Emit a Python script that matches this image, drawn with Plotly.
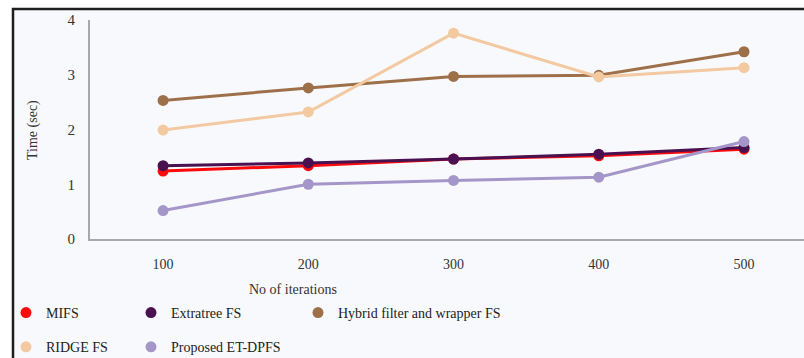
import plotly.graph_objects as go

# Iteration counts on the x axis
iterations = [100, 200, 300, 400, 500]

# Running time (sec) for each feature-selection method
mifs = [1.24, 1.34, 1.46, 1.52, 1.64]
extratree = [1.34, 1.39, 1.46, 1.55, 1.67]
hybrid = [2.53, 2.76, 2.97, 2.99, 3.42]
ridge = [1.99, 2.32, 3.76, 2.96, 3.13]
proposed = [0.52, 1.00, 1.07, 1.13, 1.78]

series = [
    ("MIFS", mifs, "#ff0a0a", "legend"),
    ("Extratree FS", extratree, "#4a1150", "legend2"),
    ("Hybrid filter and wrapper FS", hybrid, "#9e7049", "legend3"),
    ("RIDGE FS", ridge, "#f2c9a1", "legend"),
    ("Proposed ET-DPFS", proposed, "#a596c9", "legend2"),
]

FONT = "Liberation Serif, Times New Roman, serif"
W, H = 804, 358

fig = go.Figure()
for name, vals, color, leg in series:
    fig.add_trace(go.Scatter(
        x=iterations, y=vals, name=name, mode="lines+markers",
        line=dict(color=color, width=3),
        marker=dict(color=color, size=11),
        showlegend=False,
    ))

# Legend entries: short marker symbols arranged in three columns
for i, (name, vals, color, leg) in enumerate(series):
    fig.add_trace(go.Scatter(
        x=[None], y=[None], name=name, mode="markers",
        marker=dict(color=color, size=11, symbol="circle"),
        legend=leg, legendgroup=name,
    ))

legend_common = dict(
    orientation="v", bgcolor="rgba(0,0,0,0)", borderwidth=0,
    font=dict(family=FONT, size=14, color="#222222"),
    tracegroupgap=13, itemwidth=30, yanchor="top", xanchor="left",
    xref="container", yref="container",
)
leg_y = 1 - 297 / H

fig.update_layout(
    width=W, height=H,
    margin=dict(l=90, r=0, t=20, b=H - 239, autoexpand=False),
    paper_bgcolor="white",
    plot_bgcolor="rgba(0,0,0,0)",
    font=dict(family=FONT, size=14, color="#333333"),
    legend=dict(x=(6) / W, y=leg_y, **legend_common),
    legend2=dict(x=(131) / W, y=leg_y, **legend_common),
    legend3=dict(x=(298) / W, y=leg_y, **legend_common),
    xaxis=dict(
        range=[49.7, 541.3], tickvals=iterations,
        ticktext=[str(v) for v in iterations],
        showgrid=False, zeroline=False,
        showline=True, linecolor="#a8a8a8", linewidth=2,
        ticks="outside", ticklen=11, tickcolor="rgba(0,0,0,0)",
        tickfont=dict(family=FONT, size=14, color="#333333"),
    ),
    yaxis=dict(
        range=[0, 4], tickvals=[0, 1, 2, 3, 4],
        showgrid=False, zeroline=False,
        showline=True, linecolor="#a8a8a8", linewidth=2,
        ticks="outside", ticklen=10, tickcolor="rgba(0,0,0,0)",
        tickfont=dict(family=FONT, size=15, color="#333333"),
    ),
    annotations=[
        dict(text="No of iterations", xref="paper", yref="paper",
             x=(293 - 90) / (W - 90), y=-(289 - 239) / (239 - 20),
             showarrow=False, xanchor="center", yanchor="middle",
             font=dict(family=FONT, size=14, color="#333333")),
        dict(text="Time (sec)", xref="paper", yref="paper",
             x=-(90 - 33) / (W - 90), y=(239 - 130) / (239 - 20),
             textangle=-90, showarrow=False,
             xanchor="center", yanchor="middle",
             font=dict(family=FONT, size=14, color="#333333")),
    ],
    shapes=[
        # chart panel with dark frame
        dict(type="rect", xref="paper", yref="paper", layer="below",
             x0=-(90 - 13) / (W - 90), x1=1.05,
             y0=-(H + 20 - 239) / (239 - 20), y1=(239 - 9) / (239 - 20),
             fillcolor="#f8f9fd", line=dict(color="#1e1e1e", width=2.5)),
    ],
)

fig.write_html("out.html")
